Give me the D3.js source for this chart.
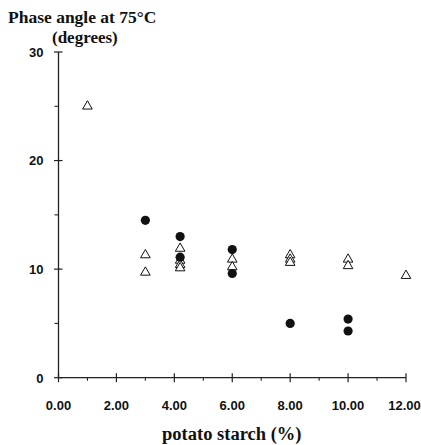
<!DOCTYPE html>
<html>
<head>
<meta charset="utf-8">
<script src="https://cdn.jsdelivr.net/npm/d3@7"></script>
<style>
  body { margin: 0; background: #fff; }
  .tickLabel { font-family: "Liberation Sans", Arial, sans-serif; font-weight: bold; fill: #111; }
  .axisTitle { font-family: "Liberation Serif", "Times New Roman", serif; font-weight: bold; fill: #111; }
</style>
</head>
<body>
<div id="chart"></div>
<script>
// open triangles
const triX = [1, 3, 3, 4.2, 4.2, 4.2, 4.2, 6, 6, 8, 8, 8, 10, 10, 12];
const triY = [25, 11.3, 9.7, 11.9, 10.8, 10.4, 10.1, 10.9, 10.2, 11.3, 10.9, 10.6, 10.9, 10.3, 9.4];
// filled circles
const circX = [3, 4.2, 4.2, 6, 6, 8, 10, 10];
const circY = [14.5, 13.0, 11.1, 11.8, 9.6, 5.0, 5.4, 4.3];

const xMajor = [0, 2, 4, 6, 8, 10, 12];
const xMinor = [1, 3, 5, 7, 9, 11];
const yMajor = [0, 10, 20, 30];
const yMinor = [5, 15, 25];

const W = 421, H = 445;
const margin = {top: 52, right: 15, bottom: 67.3, left: 58.5};
const width = W - margin.left - margin.right;
const height = H - margin.top - margin.bottom;

const svg = d3.select("#chart").append("svg")
    .attr("width", W)
    .attr("height", H);

const g = svg.append("g")
    .attr("transform", "translate(" + margin.left + "," + margin.top + ")");

const xScale = d3.scaleLinear().domain([0, 12]).range([0, width]);
const yScale = d3.scaleLinear().domain([0, 30]).range([height, 0]);

const axisColor = "#222";

// axis lines
g.append("line")
    .attr("x1", xScale(0)).attr("x2", xScale(12))
    .attr("y1", yScale(0)).attr("y2", yScale(0))
    .attr("stroke", axisColor).attr("stroke-width", 1.3);
g.append("line")
    .attr("x1", xScale(0)).attr("x2", xScale(0))
    .attr("y1", yScale(0)).attr("y2", yScale(30))
    .attr("stroke", axisColor).attr("stroke-width", 1.3);

// x ticks
g.selectAll(".xMajor").data(xMajor).join("line")
    .attr("class", "xMajor")
    .attr("x1", d => xScale(d)).attr("x2", d => xScale(d))
    .attr("y1", height - 4.5).attr("y2", height + 4.5)
    .attr("stroke", axisColor).attr("stroke-width", 1.2);
g.selectAll(".xMinor").data(xMinor).join("line")
    .attr("class", "xMinor")
    .attr("x1", d => xScale(d)).attr("x2", d => xScale(d))
    .attr("y1", height).attr("y2", height + 3)
    .attr("stroke", axisColor).attr("stroke-width", 1.1);
g.selectAll(".xLabel").data(xMajor).join("text")
    .attr("class", "xLabel tickLabel")
    .attr("x", d => Math.min(xScale(d), W - margin.left - 16.5))
    .attr("y", height + 32.5)
    .attr("text-anchor", "middle")
    .style("font-size", "13px")
    .text(d => d.toFixed(2));

// y ticks
g.selectAll(".yMajor").data(yMajor).join("line")
    .attr("class", "yMajor")
    .attr("y1", d => yScale(d)).attr("y2", d => yScale(d))
    .attr("x1", -4.5).attr("x2", 4)
    .attr("stroke", axisColor).attr("stroke-width", 1.2);
g.selectAll(".yMinor").data(yMinor).join("line")
    .attr("class", "yMinor")
    .attr("y1", d => yScale(d)).attr("y2", d => yScale(d))
    .attr("x1", -4).attr("x2", 0)
    .attr("stroke", axisColor).attr("stroke-width", 1.1);
g.selectAll(".yLabel").data(yMajor).join("text")
    .attr("class", "yLabel tickLabel")
    .attr("x", -15)
    .attr("y", d => yScale(d) + 4.8)
    .attr("text-anchor", "end")
    .style("font-size", "13px")
    .text(d => d);

// titles
svg.append("text")
    .attr("class", "axisTitle")
    .attr("x", 8).attr("y", 23)
    .style("font-size", "17.5px")
    .text("Phase angle at 75°C");
svg.append("text")
    .attr("class", "axisTitle")
    .attr("x", 52).attr("y", 43)
    .style("font-size", "17px")
    .text("(degrees)");
svg.append("text")
    .attr("class", "axisTitle")
    .attr("x", margin.left + width / 2 - 0.5).attr("y", 440)
    .attr("text-anchor", "middle")
    .style("font-size", "18.5px")
    .text("potato starch (%)");

// markers
const triData = triX.map((x, i) => ({x: x, y: triY[i]}));
const circData = circX.map((x, i) => ({x: x, y: circY[i]}));

const tri = d3.symbol().type(d3.symbolTriangle).size(40);
g.selectAll(".tri").data(triData).join("path")
    .attr("class", "tri")
    .attr("d", tri)
    .attr("transform", d => "translate(" + xScale(d.x) + "," + yScale(d.y) + ")")
    .attr("fill", "#fff")
    .attr("stroke", "#111")
    .attr("stroke-width", 1);

g.selectAll(".dot").data(circData).join("circle")
    .attr("class", "dot")
    .attr("cx", d => xScale(d.x))
    .attr("cy", d => yScale(d.y))
    .attr("r", 4.6)
    .attr("fill", "#111");
</script>
</body>
</html>
